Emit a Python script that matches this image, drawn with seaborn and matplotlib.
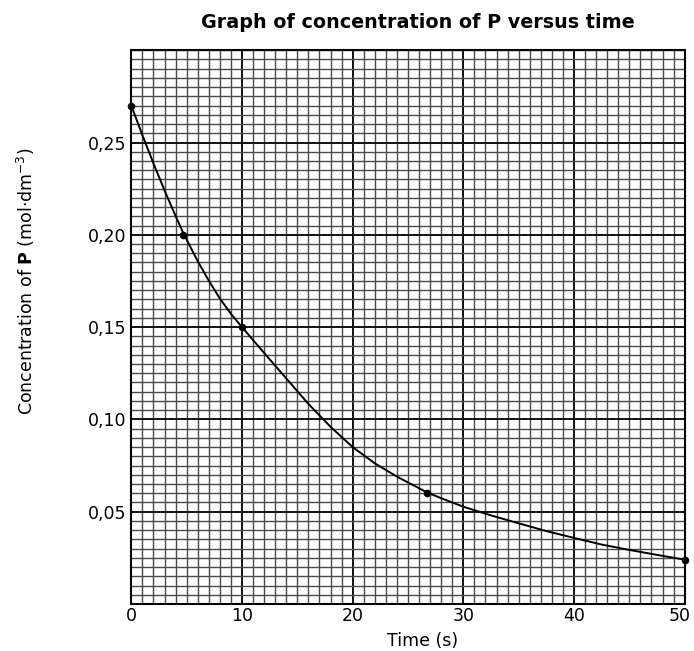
import numpy as np
import pandas as pd
import matplotlib
matplotlib.use("Agg")
import matplotlib.pyplot as plt
from matplotlib.ticker import FuncFormatter
from matplotlib.transforms import ScaledTranslation
import seaborn as sns

# Measured concentration of P at selected times
time_s = [0, 4.7, 10, 26.7, 50]
conc_P = [0.270, 0.200, 0.150, 0.060, 0.024]

# Hand-drawn best-fit curve, read at intervals along the trace
curve_t = [0, 1, 2, 3, 4, 4.7, 6, 7, 8, 9, 10, 12, 14, 16, 18, 20, 22, 24,
           26.7, 28, 30, 32.5, 35, 37.5, 40, 42.5, 45, 47.5, 50]
curve_c = [0.270, 0.2540, 0.2387, 0.2241, 0.2102, 0.2009, 0.1857, 0.1752,
           0.1655, 0.1572, 0.1500, 0.1360, 0.1222, 0.1084, 0.0960, 0.0850,
           0.0762, 0.0690, 0.0605, 0.0573, 0.0527, 0.0480, 0.0437, 0.0395,
           0.0358, 0.0322, 0.0293, 0.0266, 0.0240]

x_ticks = [0, 10, 20, 30, 40, 50]
y_ticks = [0.05, 0.10, 0.15, 0.20, 0.25]

sns.set_style("white")
plt.rcParams["font.family"] = ["DejaVu Sans"]
plt.rcParams["text.color"] = "black"
plt.rcParams["xtick.color"] = "black"
plt.rcParams["ytick.color"] = "black"
plt.rcParams["axes.labelcolor"] = "black"
plt.rcParams["mathtext.fontset"] = "dejavusans"

fig = plt.figure(figsize=(6.94, 6.51), dpi=100)
ax = fig.add_axes([131.3 / 694, 1 - 604 / 651, 553.4 / 694, 553.8 / 651])

ax.set_xlim(0, 50)
ax.set_ylim(0, 0.30)

# graph-paper grid
ax.set_xticks(x_ticks)
ax.set_yticks(y_ticks)
ax.set_xticks(np.arange(0, 50.01, 1), minor=True)
ax.set_yticks(np.arange(0, 0.3001, 0.005), minor=True)
ax.grid(which="minor", color="#4a4a4a", linewidth=1.0)
ax.grid(which="major", color="#111111", linewidth=1.4)
ax.set_axisbelow(True)
ax.tick_params(which="both", length=0)
ax.tick_params(axis="x", pad=2.5, labelsize=12.5)
ax.tick_params(axis="y", pad=3.3, labelsize=12.5)
ax.yaxis.set_major_formatter(FuncFormatter(lambda v, p: f"{v:.2f}".replace(".", ",")))
ax.xaxis.set_major_formatter(FuncFormatter(lambda v, p: f"{v:.0f}"))

for s in ax.spines.values():
    s.set_color("black")
    s.set_linewidth(1.5)

curve = pd.DataFrame({"t": curve_t, "c": curve_c})
pts = pd.DataFrame({"t": time_s, "c": conc_P})
sns.lineplot(data=curve, x="t", y="c", ax=ax, color="black", linewidth=1.4,
             sort=False, estimator=None)
sns.scatterplot(data=pts, x="t", y="c", ax=ax, color="black", s=30,
                edgecolor="black", linewidth=0, clip_on=False, zorder=5)

# keep the last time label inside the figure edge
last = ax.get_xticklabels()[-1]
last.set_transform(last.get_transform() + ScaledTranslation(-5 / 100, 0, fig.dpi_scale_trans))

ax.set_xlabel("Time (s)", fontsize=12.5)
ax.xaxis.set_label_coords(0.527, -0.05)
ax.xaxis.label.set_va("top")
ax.set_ylabel(r"Concentration of $\mathbf{P}$ (mol·dm$^{-3}$)", fontsize=12.5)
ax.yaxis.set_label_coords(-0.17, 0.582)

fig.text(417.5 / 694, 1 - 22.5 / 651, "Graph of concentration of P versus time",
         ha="center", va="center", fontsize=13.8, fontweight="bold")

fig.savefig("out.png", dpi=100)
